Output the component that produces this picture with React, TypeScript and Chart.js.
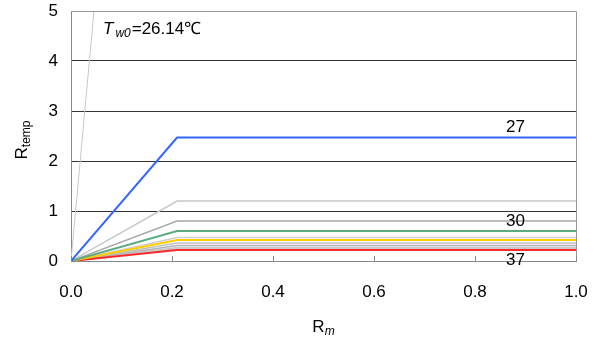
import React, { useEffect, useRef } from "react";
import { Chart, registerables } from "chart.js";

Chart.register(...registerables);

// ---- data ----
const kinkX = [0, 0.21, 1.0];
const seriesNames = ["27", "28", "29", "30", "31", "32", "33", "34", "35", "36", "37"];
const plateauValues = [2.47, 1.2, 0.8, 0.6, 0.47, 0.42, 0.36, 0.31, 0.27, 0.24, 0.22];
const seriesColors = [
  "#3366ff", "#c8c8c8", "#a8a8a8", "#5aac80", "#cfcfcf", "#ffcc00",
  "#c0c0c0", "#b4b4b4", "#c8c8c8", "#bcbcbc", "#ff2a2a",
];
const seriesWidths = [2, 1.5, 1.5, 2, 1.5, 2, 1.5, 1.5, 1.5, 1.5, 2];
const baseX = [0, 0.0455];
const baseY = [0, 5];
const baseLabel = "26.14℃";
const labelledSeries = ["27", "30", "37"];
const labelX = 0.88;
const xTicks = [0, 0.2, 0.4, 0.6, 0.8, 1.0];
const yTicks = [0, 1, 2, 3, 4, 5];

const FONT = "'Liberation Sans', Arial, sans-serif";

const decorPlugin = {
  id: "decor",
  afterDraw(chart: any) {
    const { ctx, chartArea: a, scales } = chart;
    const xs = scales.x;
    const ys = scales.y;
    ctx.save();
    // top/right border
    ctx.strokeStyle = "#999";
    ctx.lineWidth = 1;
    ctx.beginPath();
    ctx.moveTo(a.left, a.top + 0.5);
    ctx.lineTo(a.right + 0.5, a.top + 0.5);
    ctx.lineTo(a.right + 0.5, a.bottom);
    ctx.stroke();
    // inner x ticks
    ctx.strokeStyle = "#888";
    xTicks.forEach((v) => {
      const px = Math.round(xs.getPixelForValue(v)) + 0.5;
      ctx.beginPath();
      ctx.moveTo(px, a.bottom);
      ctx.lineTo(px, a.bottom - 5);
      ctx.stroke();
    });
    // series labels
    ctx.fillStyle = "#000";
    ctx.font = `17px ${FONT}`;
    ctx.textAlign = "center";
    ctx.textBaseline = "middle";
    labelledSeries.forEach((name, i) => {
      const idx = seriesNames.indexOf(name);
      const py = ys.getPixelForValue(plateauValues[idx]);
      const off = i === labelledSeries.length - 1 ? 10 : -10;
      ctx.fillText(name, xs.getPixelForValue(labelX), py + off);
    });
    // annotation T_w0 = 26.14
    let x = a.left + 32;
    const by = a.top + 23;
    ctx.textAlign = "left";
    ctx.textBaseline = "alphabetic";
    ctx.font = `italic 17px ${FONT}`;
    ctx.fillText("T", x, by);
    x += ctx.measureText("T").width + 2;
    ctx.font = `italic 12px ${FONT}`;
    ctx.fillText("w0", x, by + 3);
    x += ctx.measureText("w0").width + 1;
    ctx.font = `17px ${FONT}`;
    ctx.fillText("=" + baseLabel, x, by);
    // x title R_m
    ctx.font = `17px ${FONT}`;
    const rW = ctx.measureText("R").width;
    ctx.font = `italic 12px ${FONT}`;
    const mW = ctx.measureText("m").width;
    const cx = (a.left + a.right) / 2;
    const tx = cx - (rW + mW) / 2;
    const ty = a.bottom + 71;
    ctx.font = `17px ${FONT}`;
    ctx.fillText("R", tx, ty);
    ctx.font = `italic 12px ${FONT}`;
    ctx.fillText("m", tx + rW, ty + 3);
    // y title R_temp
    ctx.translate(27, (a.top + a.bottom) / 2 + 4);
    ctx.rotate(-Math.PI / 2);
    ctx.font = `17px ${FONT}`;
    const rW2 = ctx.measureText("R").width;
    ctx.font = `12px ${FONT}`;
    const tW = ctx.measureText("temp").width;
    const sx = -(rW2 + tW) / 2;
    ctx.font = `17px ${FONT}`;
    ctx.fillText("R", sx, 0);
    ctx.font = `12px ${FONT}`;
    ctx.fillText("temp", sx + rW2, 3);
    ctx.restore();
  },
};

export default function App() {
  const ref = useRef<HTMLCanvasElement>(null);
  useEffect(() => {
    if (!ref.current) return;
    const datasets: any[] = [
      {
        label: "26.14",
        data: baseX.map((x, i) => ({ x, y: baseY[i] })),
        borderColor: "#c8c8c8",
        borderWidth: 1,
        pointRadius: 0,
        showLine: true,
        order: 1,
      },
    ];
    seriesNames.forEach((name, i) => {
      datasets.push({
        label: name,
        data: kinkX.map((x, j) => ({ x, y: j === 0 ? 0 : plateauValues[i] })),
        borderColor: seriesColors[i],
        borderWidth: seriesWidths[i],
        pointRadius: 0,
        showLine: true,
        order: ["27", "30", "32", "37"].includes(name) ? 0 : 1,
      });
    });
    const chart = new Chart(ref.current, {
      type: "scatter",
      data: { datasets },
      plugins: [decorPlugin],
      options: {
        animation: false,
        responsive: false,
        events: [],
        layout: { padding: { left: 0, right: 25, top: 11, bottom: 0 } },
        plugins: { legend: { display: false }, tooltip: { enabled: false } },
        scales: {
          x: {
            type: "linear",
            min: 0,
            max: 1,
            afterBuildTicks: (s: any) => {
              s.ticks = xTicks.map((v) => ({ value: v }));
            },
            ticks: {
              color: "#000",
              font: { family: FONT, size: 17 },
              padding: 21,
              callback: (v: any) => Number(v).toFixed(1),
            },
            grid: { display: false, drawTicks: false },
            border: { display: true, color: "#888", width: 1 },
            afterFit: (s: any) => {
              s.height = 84;
              s.paddingLeft = 0;
              s.paddingRight = 0;
            },
          },
          y: {
            type: "linear",
            min: 0,
            max: 5,
            afterBuildTicks: (s: any) => {
              s.ticks = yTicks.map((v) => ({ value: v }));
            },
            ticks: {
              color: "#000",
              font: { family: FONT, size: 17 },
              padding: 13,
            },
            grid: {
              drawTicks: false,
              color: (c: any) =>
                c.tick && (c.tick.value === 0 || c.tick.value === 5) ? "rgba(0,0,0,0)" : "#333333",
            },
            border: { display: true, color: "#888", width: 1 },
            afterFit: (s: any) => {
              s.width = 71;
              s.paddingTop = 0;
              s.paddingBottom = 0;
            },
          },
        },
      },
    });
    return () => chart.destroy();
  }, []);
  return (
    <div style={{ position: "fixed", left: 0, top: 0, width: 601, height: 345, background: "#fff" }}>
      <canvas ref={ref} width={601} height={345} style={{ display: "block" }} />
    </div>
  );
}
